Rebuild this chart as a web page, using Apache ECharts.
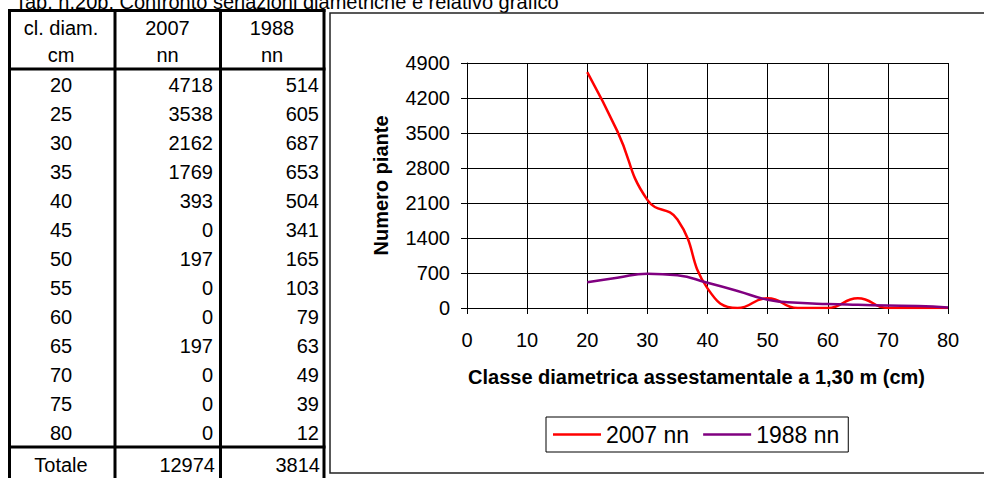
<!DOCTYPE html>
<html>
<head>
<meta charset="utf-8">
<title>Confronto seriazioni diametriche</title>
<script src="https://cdn.jsdelivr.net/npm/echarts@6/dist/echarts.min.js"></script>
<style>
  html, body { margin: 0; padding: 0; background: #fff; }
  #chart { width: 984px; height: 478px; }
</style>
</head>
<body>
<div id="chart"></div>
<script>
// classi diametriche (cm) e numero piante per rilievo
const classi = [20, 25, 30, 35, 40, 45, 50, 55, 60, 65, 70, 75, 80]
const nn2007 = [4718, 3538, 2162, 1769, 393, 0, 197, 0, 0, 197, 0, 0, 0]
const nn1988 = [514, 605, 687, 653, 504, 341, 165, 103, 79, 63, 49, 39, 12]
const seriesNames = ['2007 nn', '1988 nn']
const seriesColors = ['#ff0000', '#800080']

// assi
const xMin = 0
const xMax = 80
const xStep = 10
const yMin = 0
const yMax = 4900
const yStep = 700

// testi
const titolo = 'Tab. n.20b: Confronto seriazioni diametriche e relativo grafico'
const tableHead = [['cl. diam.', '2007', '1988'], ['cm', 'nn', 'nn']]
const totaleLabel = 'Totale'
const xName = 'Classe diametrica assestamentale a 1,30 m (cm)'
const yName = 'Numero piante'

const FONT = "'Liberation Sans', Arial, sans-serif"

function sum (arr) {
  return arr.reduce((a, b) => a + b, 0)
}

function cell (text, x, y, align) {
  return {
    type: 'text',
    silent: true,
    style: {
      text: String(text),
      x: x,
      y: y,
      align: align,
      verticalAlign: 'middle',
      fill: '#000',
      font: '20px ' + FONT
    }
  }
}

function line (x1, y1, x2, y2, w) {
  return {
    type: 'line',
    silent: true,
    shape: { x1: x1, y1: y1, x2: x2, y2: y2 },
    style: { stroke: '#000', lineWidth: w }
  }
}

function buildTable () {
  const colX = [9.5, 115, 220.5, 324]
  const center = [61, 167.5, 272]
  const right = [213, 319]
  const headY = [28, 55]
  const rowY0 = 85
  const rowH = 29
  const totY = 465
  const els = []

  els.push(cell(titolo, 15, 2, 'left'))

  tableHead.forEach((row, r) => {
    row.forEach((t, c) => els.push(cell(t, center[c], headY[r], 'center')))
  })
  classi.forEach((c, i) => {
    const y = rowY0 + i * rowH
    els.push(cell(c, center[0], y, 'center'))
    els.push(cell(nn2007[i], right[0], y, 'right'))
    els.push(cell(nn1988[i], right[1], y, 'right'))
  })
  els.push(cell(totaleLabel, center[0], totY, 'center'))
  els.push(cell(sum(nn2007), right[0] + 2, totY, 'right'))
  els.push(cell(sum(nn1988), right[1] + 1, totY, 'right'))

  colX.forEach(x => els.push(line(x, 9, x, 480, 3)))
  els.push(line(8, 10.5, 325.5, 10.5, 3))
  els.push(line(8, 69, 325.5, 69, 3))
  els.push(line(8, 447, 325.5, 447, 3))

  // cornice del grafico
  els.push({
    type: 'rect',
    silent: true,
    shape: { x: 330, y: 13, width: 720, height: 460 },
    style: { fill: 'none', stroke: '#222', lineWidth: 1.5 }
  })
  return els
}

const chart = echarts.init(document.getElementById('chart'), null, { renderer: 'svg' })

const axisCommon = {
  type: 'value',
  axisLine: { show: true, lineStyle: { color: '#000', width: 1 } },
  axisTick: { show: true, inside: false, length: 6, lineStyle: { color: '#000' } },
  splitLine: { show: true, lineStyle: { color: '#000', width: 1 } },
  nameLocation: 'middle',
  nameTextStyle: { color: '#000', fontFamily: FONT, fontSize: 20, fontWeight: 'bold' }
}

chart.setOption({
  animation: false,
  textStyle: { fontFamily: FONT },
  graphic: buildTable(),
  grid: {
    left: 467,
    right: 36,
    top: 63,
    bottom: 170
  },
  legend: {
    data: seriesNames,
    orient: 'horizontal',
    left: 546,
    top: 417,
    icon: 'rect',
    itemWidth: 48,
    itemHeight: 2.5,
    itemGap: 14,
    padding: [6, 9, 6, 7],
    borderColor: '#000',
    borderWidth: 1,
    textStyle: { color: '#000', fontFamily: FONT, fontSize: 23 }
  },
  xAxis: Object.assign({}, axisCommon, {
    min: xMin,
    max: xMax,
    interval: xStep,
    name: xName,
    nameGap: 59,
    nameTextStyle: Object.assign({}, axisCommon.nameTextStyle, { padding: [0, 22, 0, 0] }),
    axisLabel: { color: '#000', fontFamily: FONT, fontSize: 20, margin: 22 }
  }),
  yAxis: Object.assign({}, axisCommon, {
    min: yMin,
    max: yMax,
    interval: yStep,
    name: yName,
    nameRotate: 90,
    nameGap: 76,
    axisLabel: {
      color: '#000',
      fontFamily: FONT,
      fontSize: 20,
      margin: 17,
      formatter: v => String(v)
    }
  }),
  series: [nn2007, nn1988].map((vals, k) => ({
    name: seriesNames[k],
    type: 'line',
    smooth: true,
    symbol: 'none',
    showSymbol: false,
    lineStyle: { color: seriesColors[k], width: 2.5 },
    itemStyle: { color: seriesColors[k] },
    data: classi.map((c, i) => [c, vals[i]])
  }))
})
</script>
</body>
</html>
